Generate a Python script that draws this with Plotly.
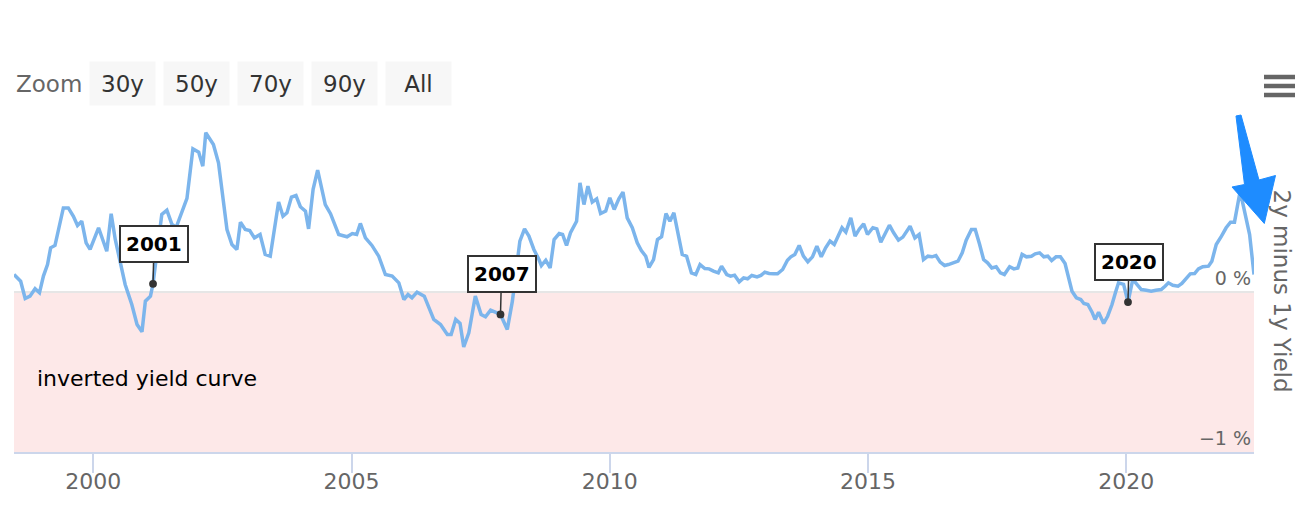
import plotly.graph_objects as go

# ---------------- data ----------------
dates = [
    "1998-06-20", "1998-08-06", "1998-09-07", "1998-10-11", "1998-11-16", "1998-12-17",
    "1999-01-14", "1999-02-12", "1999-03-06", "1999-04-06", "1999-06-04", "1999-07-09",
    "1999-08-14", "1999-09-12", "1999-10-12", "1999-11-12", "1999-12-10", "2000-02-08",
    "2000-04-06", "2000-05-07", "2000-06-05", "2000-07-14", "2000-08-14", "2000-09-30",
    "2000-11-06", "2000-12-11", "2001-01-04", "2001-02-09", "2001-02-27", "2001-04-30",
    "2001-06-05", "2001-07-10", "2001-08-10", "2001-10-25", "2001-12-06", "2002-01-16",
    "2002-02-14", "2002-03-07", "2002-04-30", "2002-06-05", "2002-08-04", "2002-09-08",
    "2002-10-13", "2002-11-07", "2002-12-11", "2003-01-12", "2003-02-14", "2003-03-26",
    "2003-05-01", "2003-06-06", "2003-08-04", "2003-09-04", "2003-10-02", "2003-11-03",
    "2003-12-05", "2004-01-05", "2004-02-10", "2004-03-03", "2004-04-04", "2004-05-06",
    "2004-06-29", "2004-08-05", "2004-10-02", "2004-11-30", "2005-01-06", "2005-02-06",
    "2005-03-04", "2005-04-09", "2005-05-25", "2005-07-12", "2005-08-28", "2005-10-15",
    "2005-12-01", "2006-01-06", "2006-02-04", "2006-03-04", "2006-04-09", "2006-05-30",
    "2006-08-05", "2006-09-22", "2006-11-09", "2006-12-06", "2007-01-07", "2007-02-07",
    "2007-03-05", "2007-04-10", "2007-05-26", "2007-07-06", "2007-08-06", "2007-09-11",
    "2007-10-04", "2007-11-20", "2008-01-07", "2008-02-12", "2008-04-05", "2008-05-08",
    "2008-06-08", "2008-07-13", "2008-08-18", "2008-09-04", "2008-10-05", "2008-11-05",
    "2008-12-03", "2009-01-08", "2009-02-01", "2009-03-01", "2009-03-29", "2009-05-11",
    "2009-06-04", "2009-07-02", "2009-07-30", "2009-08-30", "2009-09-30", "2009-10-28",
    "2009-12-03", "2010-01-01", "2010-02-01", "2010-03-06", "2010-04-04", "2010-05-04",
    "2010-06-09", "2010-07-14", "2010-08-12", "2010-09-12", "2010-10-05", "2010-11-06",
    "2010-12-04", "2011-01-02", "2011-02-02", "2011-03-02", "2011-03-30", "2011-04-28",
    "2011-05-28", "2011-06-28", "2011-08-01", "2011-09-01", "2011-10-01", "2011-11-04",
    "2011-12-04", "2012-01-04", "2012-02-07", "2012-03-01", "2012-04-07", "2012-05-04",
    "2012-06-01", "2012-07-04", "2012-08-04", "2012-09-01", "2012-10-01", "2012-11-07",
    "2012-12-04", "2013-01-01", "2013-02-01", "2013-03-04", "2013-04-01", "2013-05-07",
    "2013-06-10", "2013-07-04", "2013-08-01", "2013-09-01", "2013-10-01", "2013-11-01",
    "2013-12-04", "2014-01-04", "2014-02-04", "2014-03-07", "2014-04-07", "2014-05-07",
    "2014-06-04", "2014-07-01", "2014-07-28", "2014-09-01", "2014-10-01", "2014-11-01",
    "2014-12-01", "2014-12-28", "2015-02-04", "2015-03-04", "2015-04-01", "2015-04-28",
    "2015-06-01", "2015-07-01", "2015-08-04", "2015-09-04", "2015-09-28", "2015-10-25",
    "2015-11-28", "2015-12-28", "2016-01-28", "2016-02-28", "2016-03-28", "2016-04-25",
    "2016-05-25", "2016-06-25", "2016-07-22", "2016-08-22", "2016-09-28", "2016-10-28",
    "2016-11-25", "2017-01-01", "2017-01-28", "2017-02-28", "2017-03-28", "2017-04-25",
    "2017-05-25", "2017-06-25", "2017-07-25", "2017-08-22", "2017-09-28", "2017-10-28",
    "2017-11-25", "2017-12-25", "2018-01-25", "2018-03-01", "2018-03-28", "2018-04-28",
    "2018-05-28", "2018-06-25", "2018-07-22", "2018-08-22", "2018-09-22", "2018-10-25",
    "2018-11-19", "2018-12-13", "2019-01-13", "2019-02-13", "2019-03-07", "2019-04-04",
    "2019-05-04", "2019-05-25", "2019-06-19", "2019-07-25", "2019-08-22", "2019-09-22",
    "2019-10-16", "2019-11-07", "2019-12-13", "2020-01-13", "2020-02-16", "2020-03-16",
    "2020-04-16", "2020-05-22", "2020-06-25", "2020-07-28", "2020-09-04", "2020-10-01",
    "2020-10-25", "2020-11-25", "2021-01-01", "2021-01-28", "2021-02-28", "2021-03-28",
    "2021-04-28", "2021-05-25", "2021-06-25", "2021-08-04", "2021-08-28", "2021-09-28",
    "2021-11-04", "2021-12-07", "2022-01-07", "2022-02-04", "2022-03-16", "2022-05-22",
    "2022-06-22",
]

spread = [
    0.106, 0.064, -0.044, -0.029, 0.017, -0.008,
    0.096, 0.168, 0.272, 0.287, 0.521, 0.521,
    0.469, 0.411, 0.438, 0.303, 0.262, 0.397,
    0.251, 0.484, 0.324, 0.168, 0.044, -0.081,
    -0.206, -0.251, -0.060, -0.029, 0.048, 0.480,
    0.507, 0.420, 0.400, 0.580, 0.889, 0.868,
    0.781, 0.989, 0.916, 0.802, 0.386, 0.293,
    0.262, 0.432, 0.386, 0.380, 0.334, 0.355,
    0.231, 0.220, 0.557, 0.469, 0.490, 0.588,
    0.598, 0.528, 0.501, 0.390, 0.636, 0.756,
    0.542, 0.485, 0.355, 0.341, 0.361, 0.355,
    0.424, 0.334, 0.287, 0.220, 0.106, 0.096,
    0.054, -0.050, -0.019, -0.039, -0.004, -0.029,
    -0.174, -0.206, -0.268, -0.268, -0.174, -0.199,
    -0.345, -0.258, -0.029, -0.143, -0.158, -0.116,
    -0.123, -0.143, -0.237, -0.060, 0.314, 0.390,
    0.345, 0.262, 0.199, 0.162, 0.195, 0.147,
    0.324, 0.361, 0.355, 0.287, 0.366, 0.438,
    0.677, 0.542, 0.656, 0.557, 0.577, 0.486,
    0.501, 0.584, 0.511, 0.577, 0.619, 0.459,
    0.397, 0.303, 0.255, 0.220, 0.150, 0.199,
    0.324, 0.341, 0.486, 0.438, 0.490, 0.355,
    0.231, 0.220, 0.116, 0.106, 0.168, 0.143,
    0.141, 0.127, 0.116, 0.158, 0.106, 0.096,
    0.102, 0.060, 0.085, 0.079, 0.100, 0.091,
    0.100, 0.120, 0.112, 0.110, 0.110, 0.137,
    0.195, 0.216, 0.231, 0.287, 0.220, 0.185,
    0.216, 0.282, 0.216, 0.272, 0.314, 0.293,
    0.345, 0.397, 0.370, 0.459, 0.345, 0.390,
    0.422, 0.355, 0.397, 0.390, 0.307, 0.359,
    0.413, 0.366, 0.320, 0.339, 0.370, 0.407,
    0.334, 0.355, 0.199, 0.220, 0.216, 0.224,
    0.183, 0.162, 0.168, 0.179, 0.189, 0.241,
    0.320, 0.386, 0.386, 0.293, 0.199, 0.179,
    0.147, 0.154, 0.116, 0.106, 0.154, 0.141,
    0.147, 0.231, 0.216, 0.220, 0.235, 0.241,
    0.216, 0.220, 0.193, 0.216, 0.216, 0.174,
    0.096, 0.002, -0.039, -0.050, -0.075, -0.081,
    -0.129, -0.174, -0.129, -0.199, -0.154, -0.081,
    -0.008, 0.054, 0.044, -0.066, 0.075, 0.044,
    0.012, 0.008, 0.002, 0.008, 0.012, 0.033,
    0.054, 0.039, 0.033, 0.050, 0.079, 0.110,
    0.112, 0.141, 0.154, 0.158, 0.189, 0.293,
    0.345, 0.397, 0.432, 0.432, 0.625, 0.355,
    0.106,
]

event_labels = ["2001", "2007", "2020"]
event_dates = ["2001-02-27", "2007-11-20", "2020-01-13"]

zoom_buttons = ["30y", "50y", "70y", "90y", "All"]

x_tickvals = ["2000-01-01", "2005-01-01", "2010-01-01", "2015-01-01", "2020-01-01"]
x_ticktext = ["2000", "2005", "2010", "2015", "2020"]
y_tickvals = [-1, 0, 1]
y_ticktext = ["\u22121 %", "0 %", ""]

band_label = "inverted yield curve"
y_title = "2y minus 1y Yield"

# ---------------- layout helpers ----------------
# The page body has an 8px margin, so the figure starts at (8, 8) of the window.
OFF = 8
W, H = 1314 - OFF, 508 - OFF
PLOT_X0, PLOT_X1, PLOT_Y0, PLOT_Y1 = 14, 1254, 131, 452   # window pixels
ML, MR = PLOT_X0 - OFF, 1314 - PLOT_X1
MT, MB = PLOT_Y0 - OFF, 508 - PLOT_Y1
PW, PH = PLOT_X1 - PLOT_X0, PLOT_Y1 - PLOT_Y0
FONT = "Lucida Grande, DejaVu Sans, sans-serif"


def px(x):
    return (x - PLOT_X0) / PW


def py(y):
    return (PLOT_Y1 - y) / PH


fig = go.Figure()
fig.add_trace(go.Scatter(
    x=dates, y=spread, mode="lines",
    line=dict(color="#7cb5ec", width=3.5),
    name=y_title, showlegend=False,
))

shapes = [
    # plot band: inverted yield curve
    dict(type="rect", xref="paper", yref="y", x0=0, x1=1, y0=-1, y1=0,
         fillcolor="#fde8e8", line=dict(width=0), layer="below"),
]
# hamburger menu
for yy in (77, 86, 95):
    shapes.append(dict(type="line", xref="paper", yref="paper",
                       x0=px(1264), x1=px(1295), y0=py(yy), y1=py(yy),
                       line=dict(color="#666666", width=4.5)))
# big blue arrow (decoration)
arrow_pts = [(1236, 116), (1241, 115), (1259, 180), (1275.5, 175.5),
             (1264.3, 223.5), (1232, 187), (1244.5, 184.5)]
path = "M " + " L ".join(f"{px(a):.5f},{py(b):.5f}" for a, b in arrow_pts) + " Z"
shapes.append(dict(type="path", xref="paper", yref="paper", path=path,
                   fillcolor="#1e8cff", line=dict(color="#1e8cff", width=1)))

annotations = []
# event labels
for lab, d in zip(event_labels, event_dates):
    v = spread[dates.index(d)]
    annotations.append(dict(
        x=d, y=v, xref="x", yref="y", text=f"<b>{lab}</b>",
        showarrow=True, arrowhead=6, arrowsize=1.3, arrowwidth=1.5,
        arrowcolor="#333333", ax=1, ay=-40, standoff=0,
        bgcolor="#ffffff", bordercolor="#333333", borderwidth=2, borderpad=5,
        font=dict(family=FONT, size=20, color="#000000"),
    ))
# band label
annotations.append(dict(
    x=px(35), y=py(378), xref="paper", yref="paper", text=band_label,
    showarrow=False, xanchor="left", yanchor="middle",
    font=dict(family=FONT, size=22, color="#000000"),
))
# y axis title (reads top to bottom)
annotations.append(dict(
    x=px(1282), y=py(291.5), xref="paper", yref="paper", text=y_title,
    showarrow=False, textangle=90, xanchor="center", yanchor="middle",
    font=dict(family=FONT, size=23, color="#666666"),
))
# range selector look-alike
annotations.append(dict(
    x=px(14), y=py(84), xref="paper", yref="paper", text="Zoom",
    showarrow=False, xanchor="left", yanchor="middle",
    font=dict(family=FONT, size=23, color="#666666"),
))
for i, b in enumerate(zoom_buttons):
    cx = 122.5 + i * 74
    annotations.append(dict(
        x=px(cx), y=py(83.5), xref="paper", yref="paper", text=b,
        showarrow=False, xanchor="center", yanchor="middle",
        width=65, height=43, borderpad=0, bgcolor="#f7f7f7",
        font=dict(family=FONT, size=23, color="#333333"),
    ))

fig.update_layout(
    width=W, height=H,
    margin=dict(l=ML, r=MR, t=MT, b=MB),
    paper_bgcolor="#ffffff", plot_bgcolor="#ffffff",
    font=dict(family=FONT, color="#666666"),
    shapes=shapes, annotations=annotations,
    showlegend=False,
    xaxis=dict(
        type="date", range=[dates[0], dates[-1]],
        tickvals=x_tickvals, ticktext=x_ticktext,
        showgrid=False, zeroline=False,
        showline=True, linecolor="#ccd6eb", linewidth=2,
        ticks="outside", ticklen=19, tickwidth=1.5, tickcolor="#ccd6eb",
        ticklabelstandoff=-10,
        tickfont=dict(family=FONT, size=22, color="#666666"),
    ),
    yaxis=dict(
        range=[-1, 1], side="right",
        tickvals=y_tickvals, ticktext=y_ticktext,
        ticklabelposition="inside top",
        showgrid=True, gridcolor="#e6e6e6", gridwidth=2,
        zeroline=False, showline=False, ticks="",
        tickfont=dict(family=FONT, size=19, color="#666666"),
    ),
)

fig.write_html("out.html")
